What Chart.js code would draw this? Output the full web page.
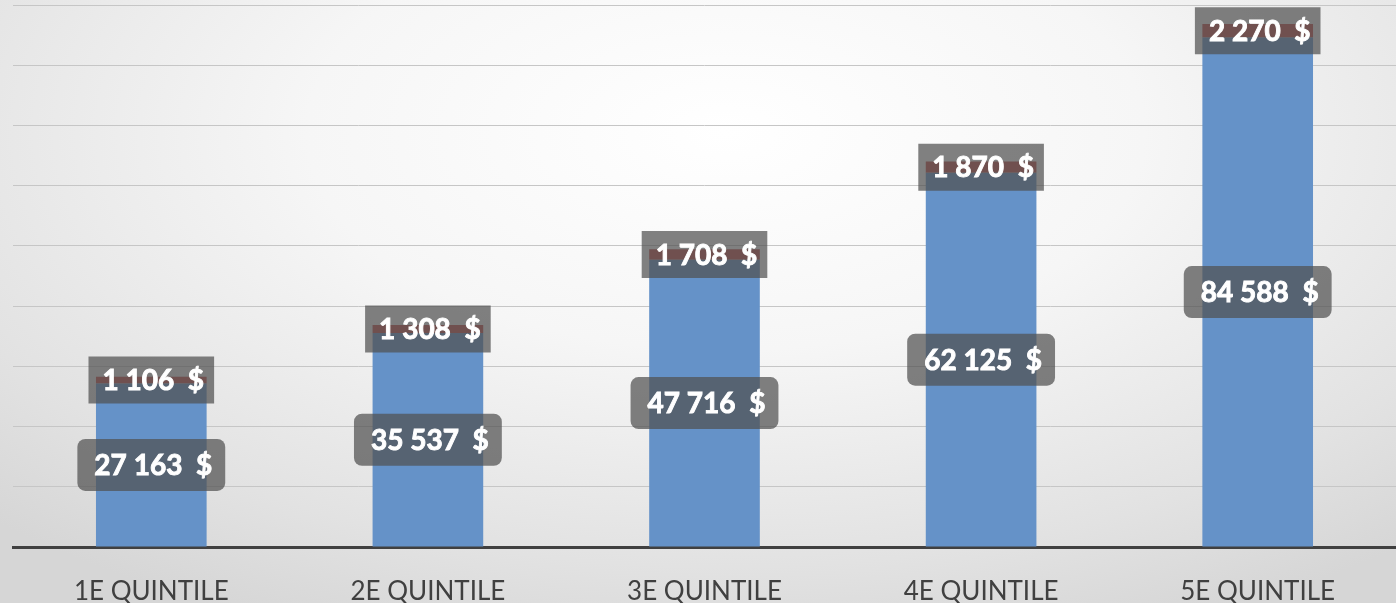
<!DOCTYPE html>
<html>
<head>
<meta charset="utf-8">
<script src="https://cdn.jsdelivr.net/npm/chart.js@4.4.1/dist/chart.umd.min.js"></script>
<style>
  html, body { margin: 0; padding: 0; }
  body {
    width: 1396px; height: 603px; overflow: hidden;
    background: radial-gradient(ellipse 75% 90% at 52% 22%, #ffffff 0%, #f6f6f6 40%, #e2e2e2 80%, #d6d6d6 100%);
  }
  #wrap { position: relative; width: 1396px; height: 603px; }
</style>
</head>
<body>
<div id="wrap"><canvas id="c"></canvas></div>
<script>
// quintiles de revenu : revenu moyen (bleu) + montant ajouté (rouge)
const categories = ['1E QUINTILE', '2E QUINTILE', '3E QUINTILE', '4E QUINTILE', '5E QUINTILE'];
const revenus = [27163, 35537, 47716, 62125, 84588];
const ajouts = [1106, 1308, 1708, 1870, 2270];
const yTicks = [0, 10000, 20000, 30000, 40000, 50000, 60000, 70000, 80000, 90000];

const fmt = (v) => String(v).replace(/\B(?=(\d{3})+(?!\d))/g, ' ') + '  $';

// étiquettes en boîtes grises semi-transparentes, centrées sur chaque segment
const boxLabels = {
  id: 'boxLabels',
  afterDatasetsDraw(chart) {
    const ctx = chart.ctx;
    ctx.save();
    ctx.font = 'bold 28px Lato';
    ctx.textAlign = 'center';
    ctx.textBaseline = 'middle';
    chart.data.datasets.forEach((ds, di) => {
      const meta = chart.getDatasetMeta(di);
      meta.data.forEach((bar, i) => {
        const txt = fmt(ds.data[i]);
        const cy = (bar.y + bar.base) / 2;
        const tw = ctx.measureText(txt).width;
        const rounded = di === 0;
        const w = tw + (rounded ? 30 : 24);
        const h = rounded ? 52 : 47;
        ctx.fillStyle = 'rgba(80,80,80,0.72)';
        ctx.beginPath();
        if (rounded) ctx.roundRect(bar.x - w / 2, cy - h / 2, w, h, 8);
        else ctx.rect(bar.x - w / 2, cy - h / 2, w, h);
        ctx.fill();
        // un léger contour pour épaissir le gras (plus proche de Calibri Bold)
        ctx.fillStyle = '#ffffff';
        ctx.strokeStyle = '#ffffff';
        ctx.lineWidth = 0.9;
        ctx.fillText(txt, bar.x + 2, cy + 1);
        ctx.strokeText(txt, bar.x + 2, cy + 1);
      });
    });
    ctx.restore();
  }
};

new Chart(document.getElementById('c'), {
  type: 'bar',
  data: {
    labels: categories,
    datasets: [
      { data: revenus, backgroundColor: '#6592c8', borderWidth: 0 },
      { data: ajouts, backgroundColor: '#c0504d', borderWidth: 0 },
    ],
  },
  options: {
    responsive: true, maintainAspectRatio: false, animation: false,
    layout: { padding: { top: 5, left: 13, right: 0, bottom: 0 } },
    plugins: { legend: { display: false }, tooltip: { enabled: false } },
    datasets: { bar: { categoryPercentage: 1, barPercentage: 0.4 } },
    scales: {
      x: {
        stacked: true,
        grid: { display: false },
        border: { display: true, color: '#404040', width: 3 },
        ticks: { color: '#404040', font: { family: 'Lato', size: 26 }, padding: 21 },
        afterFit: (s) => { s.height = 56; },
      },
      y: {
        stacked: true, min: 0, max: 90000,
        afterBuildTicks: (s) => { s.ticks = yTicks.map((v) => ({ value: v })); },
        ticks: { display: false },
        grid: { color: '#c6c6c6', lineWidth: 1, drawTicks: false },
        border: { display: false },
        afterFit: (s) => { s.width = 0; },
      },
    },
  },
  plugins: [boxLabels],
});
</script>
</body>
</html>
